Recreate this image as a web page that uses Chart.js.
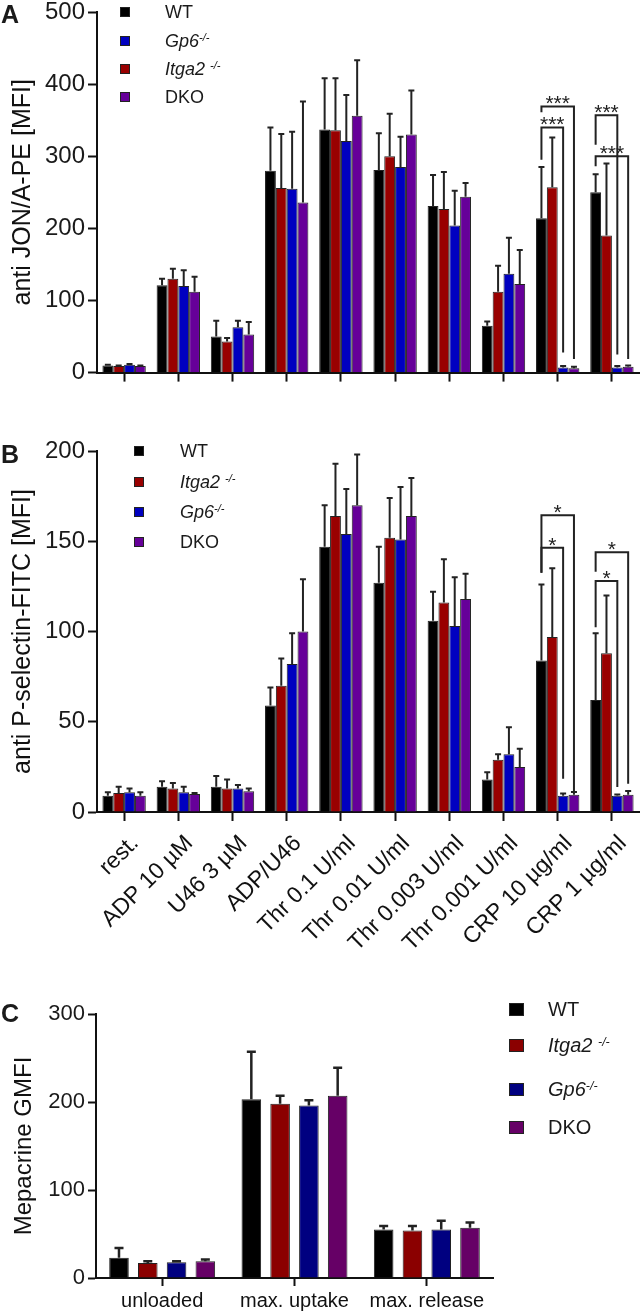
<!DOCTYPE html>
<html>
<head>
<meta charset="utf-8">
<title>Platelet activation</title>
<script src="https://cdn.jsdelivr.net/npm/chart.js@4.4.0/dist/chart.umd.min.js"></script>
<style>
  html, body { margin: 0; padding: 0; background: #fff; }
  #page { position: relative; width: 641px; height: 1311px; overflow: hidden;
          font-family: Arial, "Liberation Sans", Helvetica, sans-serif; color: #1a1a1a; }
  .box { position: absolute; left: 0; }
  .letter { position: absolute; left: 1px; font-weight: bold; font-size: 25px; line-height: 25px; }
  .leg { position: absolute; white-space: nowrap; }
  .sw { position: absolute; border: 1px solid #222; box-sizing: border-box; }
  .sup { position: relative; top: -0.5em; font-size: 0.62em; }
</style>
</head>
<body>
<div id="page">
  <div class="box" style="top:-8px"><canvas id="chartA" width="641" height="398"></canvas></div>
  <div class="box" style="top:430px"><canvas id="chartB" width="641" height="570"></canvas></div>
  <div class="box" style="top:990px"><canvas id="chartC" width="641" height="330"></canvas></div>
  <div class="letter" style="top:2px">A</div>
  <div class="letter" style="top:442px">B</div>
  <div class="letter" style="top:1001px">C</div>
</div>
<script>
// categories
const stimuli = ['rest.', 'ADP 10 µM', 'U46 3 µM', 'ADP/U46', 'Thr 0.1 U/ml', 'Thr 0.01 U/ml',
                 'Thr 0.003 U/ml', 'Thr 0.001 U/ml', 'CRP 10 µg/ml', 'CRP 1 µg/ml'];
const conditionsC = ['unloaded', 'max. uptake', 'max. release'];
const genotypes = ['WT', 'Itga2 -/-', 'Gp6-/-', 'DKO'];

// panel A: JON/A-PE (mean, SD)
const wtA = [10, 121, 50, 280, 337, 281, 231, 65, 214, 250];
const wtASd = [1, 9, 22, 60, 71, 51, 43, 6, 71, 25];
const itgaA = [9, 130, 43, 256, 336, 300, 227, 112, 257, 190];
const itgaASd = [1, 14, 5, 75, 72, 59, 51, 36, 69, 100];
const gp6A = [11, 120, 63, 255, 321, 285, 204, 137, 7, 7];
const gp6ASd = [1, 22, 9, 79, 64, 42, 48, 50, 2, 2];
const dkoA = [9, 112, 53, 236, 356, 330, 244, 123, 6, 8];
const dkoASd = [1, 21, 17, 140, 77, 61, 19, 47, 2, 2];
const ticksA = [0, 100, 200, 300, 400, 500];

// panel B: P-selectin-FITC (mean, SD)
const wtB = [9, 14, 14, 59, 147, 127, 106, 18, 84, 62];
const wtBSd = [2, 3, 6, 10, 23, 20, 16, 4, 42, 37];
const itgaB = [10.5, 13, 13, 70, 164, 152, 116, 29, 97, 88];
const itgaBSd = [3.5, 3, 5, 15, 29, 22, 24, 3, 38, 32];
const gp6B = [11, 11, 13, 82, 154, 151, 103, 32, 9, 9];
const gp6BSd = [2, 3, 2, 17, 25, 29, 27, 15, 1.3, 0.7];
const dkoB = [9, 10, 11.5, 100, 170, 164, 118, 25, 9.6, 9.6];
const dkoBSd = [2, 0.5, 1.5, 29, 28, 21, 14, 10, 1.5, 2];
const ticksB = [0, 50, 100, 150, 200];

// panel C: mepacrine GMFI (mean, SD)
const wtC = [23, 203, 55];
const wtCSd = [11, 54, 4];
const itgaC = [17, 198, 54];
const itgaCSd = [2, 9, 5];
const gp6C = [18, 196, 55];
const gp6CSd = [1, 6, 10];
const dkoC = [19, 207, 57];
const dkoCSd = [2, 32, 6];
const ticksC = [0, 100, 200, 300];

// significance brackets: [category, from dataset, to dataset, left end, top, right end, label]
const sigA = [[8, 0, 3, 361, 369, 19, '***'], [8, 0, 2, 295, 340, 28, '***'],
              [9, 0, 2, 316, 357, 25, '***'], [9, 0, 3, 286, 300, 19, '***']];
const sigB = [[8, 0, 3, 132.6, 164.4, 10.5, '*'], [8, 0, 2, 132.6, 146.4, 18.4, '*'],
              [9, 0, 3, 133.1, 143.9, 15.7, '*'], [9, 0, 2, 102.3, 128, 13.8, '*']];

const colorsAB = ['#000000', '#990000', '#0000c0', '#660099'];
const colorsC = ['#000000', '#8b0000', '#000080', '#660066'];

Chart.defaults.font.family = 'Arial, "Liberation Sans", Helvetica, sans-serif';
Chart.defaults.color = '#1a1a1a';

// error bars above each bar
const errorBars = {
  id: 'errorBars',
  afterDatasetsDraw(chart, args, opts) {
    const ctx = chart.ctx;
    const y = chart.scales.y;
    ctx.save();
    ctx.strokeStyle = '#222';
    ctx.lineWidth = opts.width;
    chart.data.datasets.forEach((ds, di) => {
      chart.getDatasetMeta(di).data.forEach((bar, i) => {
        const top = y.getPixelForValue(ds.data[i] + ds.sd[i]);
        ctx.beginPath();
        ctx.moveTo(bar.x, bar.y);
        ctx.lineTo(bar.x, top);
        ctx.moveTo(bar.x - opts.cap / 2, top);
        ctx.lineTo(bar.x + opts.cap / 2, top);
        ctx.stroke();
      });
    });
    ctx.restore();
  }
};

// significance brackets
const brackets = {
  id: 'brackets',
  afterDatasetsDraw(chart, args, opts) {
    if (!opts.items) return;
    const ctx = chart.ctx;
    const y = chart.scales.y;
    ctx.save();
    ctx.strokeStyle = '#222';
    ctx.fillStyle = '#222';
    ctx.lineWidth = 2;
    ctx.font = '21px Arial, "Liberation Sans", sans-serif';
    ctx.textAlign = 'center';
    ctx.textBaseline = 'alphabetic';
    opts.items.forEach(([cat, from, to, left, top, right, label]) => {
      const x1 = chart.getDatasetMeta(from).data[cat].x;
      const x2 = chart.getDatasetMeta(to).data[cat].x;
      const yT = y.getPixelForValue(top);
      ctx.beginPath();
      ctx.moveTo(x1, y.getPixelForValue(left));
      ctx.lineTo(x1, yT);
      ctx.lineTo(x2, yT);
      ctx.lineTo(x2, y.getPixelForValue(right));
      ctx.stroke();
      ctx.fillText(label, (x1 + x2) / 2, yT + 4);
    });
    ctx.restore();
  }
};

function makeChart(id, cfg) {
  const datasets = cfg.series.map((s, i) => ({
    label: genotypes[i],
    data: s[0],
    sd: s[1],
    backgroundColor: cfg.colors[i],
    borderColor: '#222',
    borderWidth: 1,
    categoryPercentage: cfg.catPct,
    barPercentage: cfg.barPct
  }));
  return new Chart(document.getElementById(id), {
    type: 'bar',
    data: { labels: cfg.labels, datasets },
    options: {
      responsive: false,
      animation: false,
      layout: { padding: { top: cfg.padTop, right: cfg.padRight, left: 0, bottom: 0 } },
      plugins: {
        legend: { display: false },
        tooltip: { enabled: false },
        errorBars: { cap: cfg.cap, width: cfg.errWidth },
        brackets: { items: cfg.sig }
      },
      scales: {
        x: {
          afterFit: s => { s.height = cfg.xHeight; },
          border: { display: true, color: '#111', width: 2 },
          grid: { display: true, drawOnChartArea: false, offset: false, drawTicks: true,
                  tickLength: cfg.tickLen, tickWidth: 2, tickColor: '#111' },
          ticks: {
            display: cfg.showX,
            autoSkip: false,
            minRotation: cfg.rot, maxRotation: cfg.rot,
            labelOffset: cfg.labelOffset,
            padding: cfg.xPad,
            font: { size: cfg.xFont },
            color: '#111'
          }
        },
        y: {
          min: cfg.ticks[0],
          max: cfg.ticks[cfg.ticks.length - 1],
          afterFit: s => { s.width = cfg.yWidth; },
          afterBuildTicks: s => { s.ticks = cfg.ticks.map(v => ({ value: v })); },
          border: { display: true, color: '#111', width: 2 },
          grid: { display: true, drawOnChartArea: false, drawTicks: true,
                  tickLength: cfg.tickLen, tickWidth: 2, tickColor: '#111' },
          ticks: { font: { size: cfg.yFont }, color: '#1a1a1a', padding: 3 },
          title: { display: true, text: cfg.title, font: { size: cfg.titleFont },
                   padding: { top: cfg.titlePad, bottom: 0 }, color: '#111' }
        }
      }
    },
    plugins: [errorBars, brackets]
  });
}

makeChart('chartA', {
  labels: stimuli,
  series: [[wtA, wtASd], [itgaA, itgaASd], [gp6A, gp6ASd], [dkoA, dkoASd]],
  colors: colorsAB, catPct: 0.8, barPct: 1.0,
  padTop: 20, padRight: 2, xHeight: 17, yWidth: 97,
  tickLen: 9, showX: false, rot: 0, labelOffset: 0, xPad: 3, xFont: 20,
  ticks: ticksA, yFont: 24, title: 'anti JON/A-PE [MFI]', titleFont: 25, titlePad: 8,
  cap: 6, errWidth: 2, sig: sigA
});

makeChart('chartB', {
  labels: stimuli,
  series: [[wtB, wtBSd], [itgaB, itgaBSd], [gp6B, gp6BSd], [dkoB, dkoBSd]],
  colors: colorsAB, catPct: 0.8, barPct: 1.0,
  padTop: 21, padRight: 2, xHeight: 188, yWidth: 97,
  tickLen: 9, showX: true, rot: 45, labelOffset: 11, xPad: 9, xFont: 23,
  ticks: ticksB, yFont: 24, title: 'anti P-selectin-FITC [MFI]', titleFont: 25, titlePad: 8,
  cap: 6, errWidth: 2, sig: sigB
});

makeChart('chartC', {
  labels: conditionsC,
  series: [[wtC, wtCSd], [itgaC, itgaCSd], [gp6C, gp6CSd], [dkoC, dkoCSd]],
  colors: colorsC, catPct: 0.87, barPct: 0.68,
  padTop: 24, padRight: 148, xHeight: 42, yWidth: 96,
  tickLen: 8, showX: true, rot: 0, labelOffset: 0, xPad: 3, xFont: 20,
  ticks: ticksC, yFont: 22, title: 'Mepacrine GMFI', titleFont: 24, titlePad: 10,
  cap: 9, errWidth: 2.5, sig: null
});

// legends (HTML, for italic gene names with superscripts)
const legendNamesA = ['WT', '<i>Gp6<span class="sup">-/-</span></i>', '<i>Itga2 <span class="sup">-/-</span></i>', 'DKO'];
const legendColorsA = ['#000000', '#0000c0', '#990000', '#660099'];
const legendRowsA = [11.5, 41, 69, 97];
const legendNamesB = ['WT', '<i>Itga2 <span class="sup">-/-</span></i>', '<i>Gp6<span class="sup">-/-</span></i>', 'DKO'];
const legendColorsB = ['#000000', '#990000', '#0000c0', '#660099'];
const legendRowsB = [451, 482, 512, 542];
const legendNamesC = legendNamesB;
const legendRowsC = [1009, 1045, 1089, 1127];

function addLegend(names, colors, rows, sqX, sqW, sqH, textX, fs) {
  const page = document.getElementById('page');
  names.forEach((n, i) => {
    const sw = document.createElement('div');
    sw.className = 'sw';
    sw.style.cssText = `left:${sqX - sqW / 2}px;top:${rows[i] - sqH / 2}px;width:${sqW}px;height:${sqH}px;background:${colors[i]}`;
    page.appendChild(sw);
    const t = document.createElement('div');
    t.className = 'leg';
    t.style.cssText = `left:${textX}px;top:${rows[i] - fs / 2}px;font-size:${fs}px;line-height:${fs}px`;
    t.innerHTML = n;
    page.appendChild(t);
  });
}
addLegend(legendNamesA, legendColorsA, legendRowsA, 125, 10, 10, 165, 18);
addLegend(legendNamesB, legendColorsB, legendRowsB, 139, 10, 10, 180, 18);
addLegend(legendNamesC, colorsC, legendRowsC, 516.5, 15, 13, 548, 20);
</script>
</body>
</html>
